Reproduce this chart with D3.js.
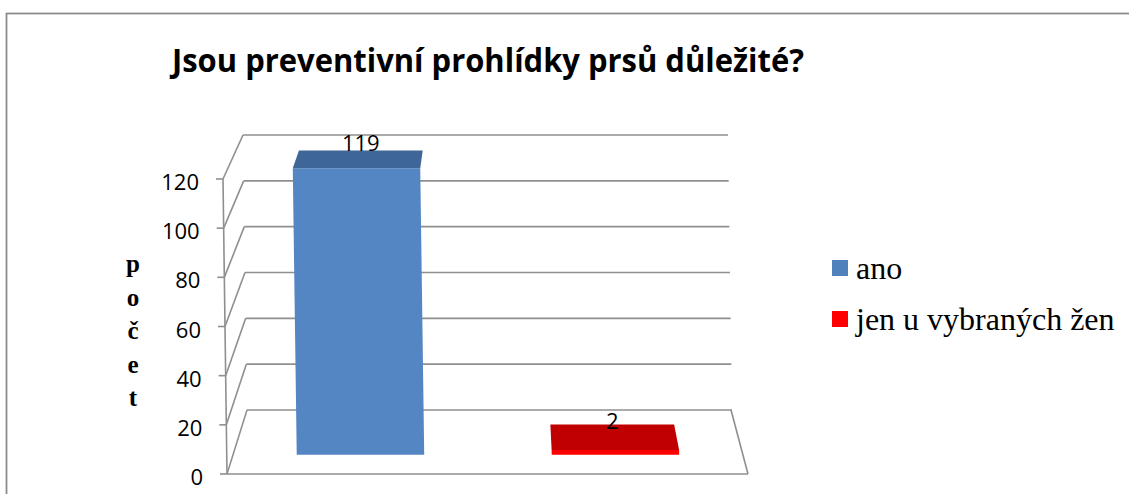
<!DOCTYPE html>
<html>
<head>
<meta charset="utf-8">
<script src="https://cdn.jsdelivr.net/npm/d3@7"></script>
<style>
    body { margin: 0; background: white; }
    .grid line, .wall line { stroke: #8f8f8f; stroke-width: 1.6; fill: none; }
    .tick-label { font-family: "Open Sans", sans-serif; font-size: 22px; fill: #000; }
    .bar-label { font-family: "Open Sans", sans-serif; font-size: 22px; fill: #000; }
    .legend text { font-family: "Liberation Serif", "Times New Roman", serif; font-size: 32px; fill: #000; }
</style>
</head>
<body>
<svg id="chart" width="1129" height="494"></svg>
<script>
// data
const categories = ["ano", "jen u vybraných žen"];
const counts = [119, 2];
const colors = ["#5486c4", "#ff0000"];
const topColors = ["#3e6696", "#c00000"];
const legendColors = ["#4f81bd", "#ff0000"];
const yTicks = [0, 20, 40, 60, 80, 100, 120];
const titleText = "Jsou preventivní prohlídky prsů důležité?";
const axisTitle = ["p", "o", "č", "e", "t"];

let svg = d3.select("#chart");

// the 3d box: front edge and back wall scales, depth 0 = front, 1 = back
let xFront = d3.scaleLinear().domain([0, 1]).range([227, 748]);
let xBack = d3.scaleLinear().domain([0, 1]).range([247, 731]);
let yFront = d3.scaleLinear().domain([0, 120]).range([474, 179]);
let yBack = d3.scaleLinear().domain([0, 120]).range([410, 135]);
let xSkew = d3.scaleLinear().domain([0, 120]).range([0, -4]);

// band along the category axis
let band = d3.scaleBand()
    .domain(categories)
    .range([0, 1])
    .paddingInner(0.5)
    .paddingOuter(0.25);

// projects (category position, value, depth) to screen
function proj(u, v, z) {
    let x = xFront(u) * (1 - z) + xBack(u) * z + xSkew(v);
    let y = yFront(v) * (1 - z) + yBack(v) * z;
    return [x, y];
}

function poly(points) {
    return "M" + points.map((p) => p[0] + "," + p[1]).join("L") + "Z";
}

// outer frame
svg.append("rect")
    .attr("x", 6.5)
    .attr("y", 13.5)
    .attr("width", 1300)
    .attr("height", 600)
    .attr("fill", "none")
    .attr("stroke", "#8c8c8c")
    .attr("stroke-width", 1.8);

// title
svg.append("text")
    .attr("x", 172)
    .attr("y", 72)
    .attr("textLength", 632)
    .attr("lengthAdjust", "spacingAndGlyphs")
    .style("font-family", "'Open Sans', sans-serif")
    .style("font-weight", "bold")
    .style("font-size", "32px")
    .text(titleText);

// back wall grid lines and side wall diagonals
function drawGrid() {
    let grid = svg.append("g").attr("class", "grid");
    grid.selectAll(".back")
        .data(yTicks)
        .enter()
        .append("line")
        .attr("x1", (d) => proj(0, d, 1)[0])
        .attr("y1", (d) => proj(0, d, 1)[1])
        .attr("x2", (d) => proj(1, d, 1)[0] + 1)
        .attr("y2", (d) => proj(0, d, 1)[1]);

    grid.selectAll(".side")
        .data(yTicks)
        .enter()
        .append("line")
        .attr("x1", (d) => proj(0, d, 0)[0])
        .attr("y1", (d) => proj(0, d, 0)[1])
        .attr("x2", (d) => proj(0, d, 1)[0])
        .attr("y2", (d) => proj(0, d, 1)[1]);

    // floor
    let wall = svg.append("g").attr("class", "wall");
    let f0 = proj(0, 0, 0), f1 = proj(1, 0, 0), b1 = proj(1, 0, 1);
    wall.append("line").attr("x1", f0[0]).attr("y1", f0[1]).attr("x2", f1[0]).attr("y2", f1[1]);
    wall.append("line").attr("x1", f1[0]).attr("y1", f1[1]).attr("x2", b1[0]).attr("y2", b1[1]);

    // front vertical axis with ticks
    let top = proj(0, 120, 0);
    wall.append("line").attr("x1", f0[0]).attr("y1", f0[1]).attr("x2", top[0]).attr("y2", top[1]);
    wall.selectAll(".tick")
        .data(yTicks)
        .enter()
        .append("line")
        .attr("x1", (d) => proj(0, d, 0)[0] - 7)
        .attr("x2", (d) => proj(0, d, 0)[0])
        .attr("y1", (d) => proj(0, d, 0)[1])
        .attr("y2", (d) => proj(0, d, 0)[1]);

    svg.selectAll(".tick-label")
        .data(yTicks)
        .enter()
        .append("text")
        .attr("class", "tick-label")
        .attr("x", (d) => proj(0, d, 0)[0] - 24)
        .attr("y", (d) => proj(0, d, 0)[1] + 11)
        .attr("text-anchor", "end")
        .text((d) => d);
}

// bars: front face and top face
function drawBars() {
    let z0 = 0.3, z1 = 0.7;
    let bars = svg.selectAll(".bar")
        .data(categories)
        .enter()
        .append("g")
        .attr("class", "bar");

    bars.append("path")
        .attr("fill", (d, i) => colors[i])
        .attr("d", (d, i) => {
            let u0 = band(d), u1 = band(d) + band.bandwidth();
            return poly([proj(u0, 0, z0), proj(u1, 0, z0), proj(u1, counts[i], z0), proj(u0, counts[i], z0)]);
        });

    bars.append("path")
        .attr("fill", (d, i) => topColors[i])
        .attr("d", (d, i) => {
            let u0 = band(d), u1 = band(d) + band.bandwidth();
            let v = counts[i];
            return poly([proj(u0, v, z0), proj(u1, v, z0), proj(u1, v, z1), proj(u0, v, z1)]);
        });

    // value labels
    bars.append("text")
        .attr("class", "bar-label")
        .attr("text-anchor", "middle")
        .attr("x", (d, i) => proj(band(d) + band.bandwidth() / 2, counts[i], z1)[0])
        .attr("y", (d, i) => {
            let mid = (proj(0, counts[i], z0)[1] + proj(0, counts[i], z1)[1]) / 2;
            return mid - 8;
        })
        .text((d, i) => counts[i]);
}

// vertical stacked axis title
function drawAxisTitle() {
    let t = svg.append("text")
        .attr("x", 133)
        .attr("y", 272)
        .attr("text-anchor", "middle")
        .style("font-family", "'Liberation Serif', serif")
        .style("font-weight", "bold")
        .style("font-size", "25px");
    t.selectAll("tspan")
        .data(axisTitle)
        .enter()
        .append("tspan")
        .attr("x", 133)
        .attr("dy", (d, i) => i == 0 ? 0 : 33.5)
        .text((d) => d);
}

function drawLegend() {
    let legend = svg.append("g").attr("class", "legend");
    let item = legend.selectAll("g")
        .data(categories)
        .enter()
        .append("g")
        .attr("transform", (d, i) => "translate(832, " + (260 + i * 51) + ")");
    item.append("rect")
        .attr("width", 16)
        .attr("height", 16)
        .attr("fill", (d, i) => legendColors[i]);
    item.append("text")
        .attr("x", 24)
        .attr("y", 19)
        .text((d) => d);
}

drawGrid();
drawBars();
drawAxisTitle();
drawLegend();
</script>
</body>
</html>
